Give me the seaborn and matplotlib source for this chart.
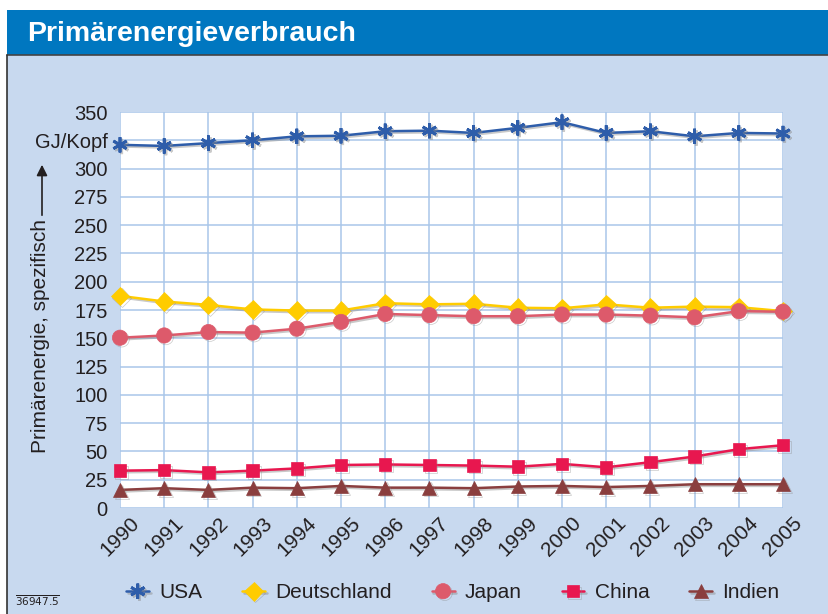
import pandas as pd
import matplotlib.pyplot as plt
import matplotlib.patheffects as pe
from matplotlib.patches import Rectangle
from matplotlib.lines import Line2D
import seaborn as sns

# === Data ===
years = list(range(1990, 2006))
usa = [321, 320, 322.5, 325, 328.5, 329, 333, 333.5, 331.5, 336, 341, 331.5, 333, 328.5, 331.5, 331]
deutschland = [187.5, 182.5, 179.5, 175.5, 174.5, 174.5, 181, 180, 180.5, 177, 176.5, 180, 177, 178, 177.5, 174]
japan = [150.5, 152.5, 155.5, 155, 158.5, 164.5, 171.5, 170.5, 169.5, 169.5, 171, 171, 170, 168.5, 174, 173.5]
china = [33, 33.5, 31.5, 33, 35, 38, 38.5, 38, 37.5, 36.5, 39, 36, 40.5, 45.5, 52, 55.5]
indien = [16, 17.5, 16, 18, 17.5, 19.5, 18, 18, 17.5, 19, 19.5, 18.5, 19.5, 21, 21, 21]

countries = ["USA", "Deutschland", "Japan", "China", "Indien"]
y_ticks = list(range(0, 351, 25))
y_ticklabels = [("GJ/Kopf" if t == 325 else str(t)) for t in y_ticks]

df = pd.DataFrame({"Jahr": years, "USA": usa, "Deutschland": deutschland,
                   "Japan": japan, "China": china, "Indien": indien})
long_df = df.melt(id_vars="Jahr", var_name="Land", value_name="Wert")

# === Style ===
colors = {"USA": "#2E5DAA", "Deutschland": "#FFCC00", "Japan": "#DD5A6B",
          "China": "#E8174F", "Indien": "#8A3E3E"}
markers = {"USA": (6, 2, 0), "Deutschland": "D", "Japan": "o", "China": "s", "Indien": "^"}
msize = {"USA": 11, "Deutschland": 9.5, "Japan": 11, "China": 9, "Indien": 10}
bg = "#C8D9EF"
grid_col = "#A9C6EA"
txt_col = "#231F20"

sns.set_style("white")
plt.rcParams["font.family"] = ["Liberation Sans", "DejaVu Sans"]

fig = plt.figure(figsize=(8.29, 6.14), dpi=100, facecolor="white")
W, H = 829, 614

# background panels
fig.patches.append(Rectangle((7 / W, 0), 1, 1 - 55 / H, transform=fig.transFigure,
                             facecolor=bg, edgecolor="none", zorder=-10))
fig.patches.append(Rectangle((7 / W, 1 - 55 / H), 1, 45 / H, transform=fig.transFigure,
                             facecolor="#0077C0", edgecolor="none", zorder=-10))
fig.lines.append(Line2D([7 / W, 1], [1 - 55 / H] * 2, transform=fig.transFigure,
                        color="#444444", lw=1.2))
fig.lines.append(Line2D([7 / W] * 2, [0, 1 - 55 / H], transform=fig.transFigure,
                        color="#333333", lw=1.2))
fig.text(27 / W, 1 - 41 / H, "Primärenergieverbrauch", color="white", fontsize=20.5,
         fontweight="bold", ha="left", va="baseline")

ax = fig.add_axes([120 / W, 1 - 508 / H, (783 - 120) / W, (508 - 112) / H])
ax.set_facecolor("white")

shadow = [pe.SimpleLineShadow(offset=(1.2, -1.2), shadow_color="#888888", alpha=0.45),
          pe.Normal()]
for name in countries:
    sub = long_df[long_df["Land"] == name]
    sns.lineplot(data=sub, x="Jahr", y="Wert", color=colors[name], marker=markers[name],
                 markersize=msize[name], markeredgecolor=colors[name],
                 markeredgewidth=2.0 if name == "USA" else 0.5, lw=1.8, ax=ax,
                 legend=False)
    line = ax.lines[-1]
    line.set_clip_on(False)
    line.set_path_effects(shadow)
    line.set_zorder(5)

ax.set_xlim(1990, 2005)
ax.set_ylim(0, 350)
ax.set_xticks(years)
ax.set_xticklabels([str(y) for y in years], rotation=45, ha="center", va="top",
                   fontsize=15, color=txt_col)
ax.set_yticks(y_ticks)
ax.set_yticklabels(y_ticklabels, fontsize=14.5, color=txt_col)
ax.tick_params(axis="y", length=0, pad=9)
ax.tick_params(axis="x", length=0, pad=4)
ax.grid(True, color=grid_col, lw=1.1)
ax.set_axisbelow(True)
for s in ax.spines.values():
    s.set_visible(False)
ax.set_xlabel("")
ax.set_ylabel("")

# y axis caption with arrow
fig.text(41 / W, 1 - 336 / H, "Primärenergie, spezifisch", rotation=90,
         ha="center", va="center", fontsize=15, color=txt_col)
fig.add_artist(plt.Annotation("", xy=(42 / W, 1 - 162 / H), xytext=(42 / W, 1 - 218 / H),
                              xycoords=fig.transFigure, textcoords=fig.transFigure,
                              arrowprops=dict(arrowstyle="-|>", color=txt_col, lw=1.2,
                                              mutation_scale=16)))

# legend
handles = [Line2D([], [], color=colors[c], marker=markers[c], markersize=msize[c],
                  markeredgecolor=colors[c], markeredgewidth=2.0 if c == "USA" else 0.5,
                  lw=1.8, path_effects=shadow) for c in countries]
fig.legend(handles, countries, loc="center", bbox_to_anchor=(453 / W, 1 - 593 / H),
           ncol=5, frameon=False, fontsize=15, handlelength=1.1, handletextpad=0.5,
           columnspacing=1.9, labelcolor=txt_col)

# footnote
fig.text(15 / W, 1 - 606 / H, r"$\overline{\mathrm{36947.5}}$", fontsize=7.5,
         color=txt_col, ha="left", va="baseline")

fig.savefig("out.png", dpi=100, facecolor=fig.get_facecolor())
